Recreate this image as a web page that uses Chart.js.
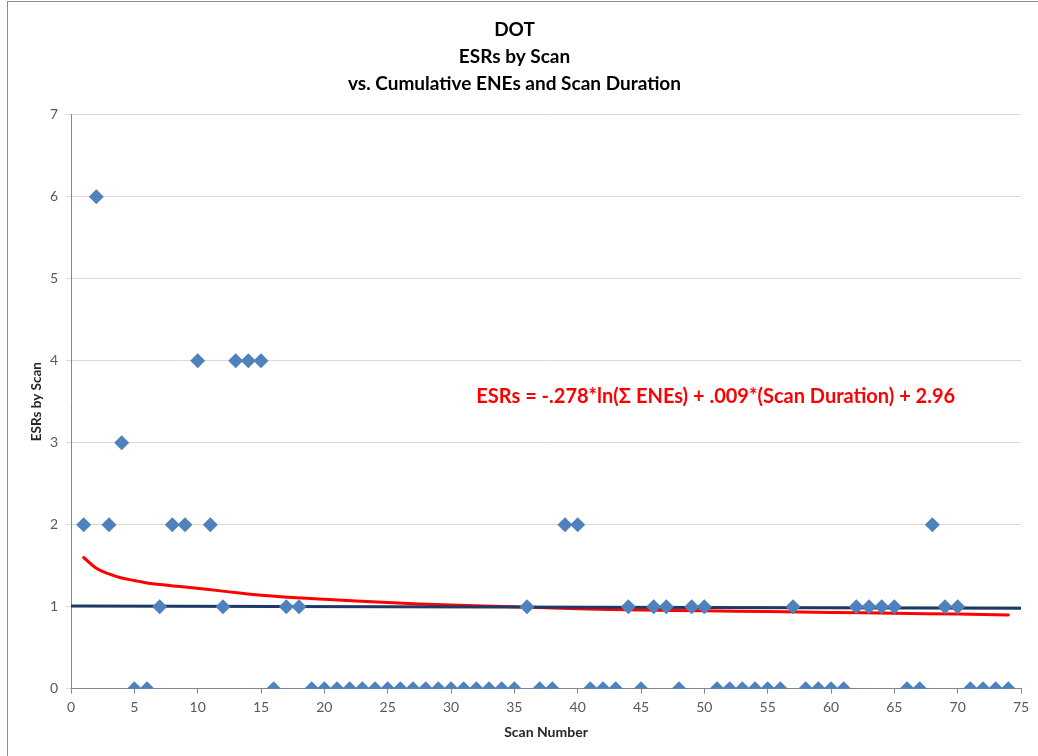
<!DOCTYPE html>
<html>
<head>
<meta charset="utf-8">
<script src="https://cdn.jsdelivr.net/npm/chart.js@4/dist/chart.umd.min.js"></script>
<style>
  html, body { margin: 0; padding: 0; background: #fff; overflow: hidden; width: 1038px; height: 756px; }
  #frame { position: absolute; left: 7px; top: 1px; border: 1px solid #8c8c8c; width: 1042px; height: 754px; }
  canvas { display: block; }
</style>
</head>
<body>
<div id="frame"><canvas id="c" width="1042" height="754"></canvas></div>
<script>
// ---- Data ----
const scanNumbers = [1,2,3,4,5,6,7,8,9,10,11,12,13,14,15,16,17,18,19,20,21,22,23,24,25,26,27,28,29,30,31,32,33,34,35,36,37,38,39,40,41,42,43,44,45,46,47,48,49,50,51,52,53,54,55,56,57,58,59,60,61,62,63,64,65,66,67,68,69,70,71,72,73,74];
const esrs = [2,6,2,3,0,0,1,2,2,4,2,1,4,4,4,0,1,1,0,0,0,0,0,0,0,0,0,0,0,0,0,0,0,0,0,1,0,0,2,2,0,0,0,1,0,1,1,0,1,1,0,0,0,0,0,0,1,0,0,0,0,1,1,1,1,0,0,2,1,1,0,0,0,0];
const fitX = [1,2,3,4,5,6,7,9,12,15,20,25,30,35,40,45,50,55,60,65,70,74];
const fitY = [1.60,1.47,1.40,1.35,1.32,1.29,1.27,1.24,1.19,1.14,1.09,1.05,1.02,1.00,0.975,0.96,0.95,0.94,0.93,0.92,0.91,0.90];
const lineX = [0, 75];
const lineY = [1.01, 0.98];
const titleLines = ['DOT', 'ESRs by Scan', 'vs. Cumulative ENEs and Scan Duration'];
const equationText = 'ESRs = -.278*ln(\u03A3 ENEs) + .009*(Scan Duration) + 2.96';
const equationAt = { x: 32, y: 3.56 };
const xTitle = 'Scan Number';
const yTitle = 'ESRs by Scan';

const toXY = (xs, ys) => xs.map((x, i) => ({ x: x, y: ys[i] }));

const equationPlugin = {
  id: 'equation',
  afterDatasetsDraw(chart) {
    const ctx = chart.ctx;
    const px = chart.scales.x.getPixelForValue(equationAt.x);
    const py = chart.scales.y.getPixelForValue(equationAt.y);
    ctx.save();
    ctx.font = 'bold 20px Lato';
    ctx.fillStyle = '#ff0000';
    ctx.textAlign = 'left';
    ctx.textBaseline = 'middle';
    ctx.fillText(equationText, px, py);
    ctx.restore();
  }
};

new Chart(document.getElementById('c'), {
  type: 'scatter',
  data: {
    datasets: [
      {
        label: 'ESRs',
        data: toXY(scanNumbers, esrs),
        pointStyle: 'rectRot',
        pointRadius: 7.5,
        pointHoverRadius: 7.5,
        backgroundColor: '#4f81bd',
        borderColor: '#4f81bd',
        borderWidth: 0,
        showLine: false
      },
      {
        label: 'Line',
        data: toXY(lineX, lineY),
        showLine: true,
        borderColor: '#1f3864',
        borderWidth: 3,
        pointRadius: 0
      },
      {
        label: 'Fit',
        data: toXY(fitX, fitY),
        showLine: true,
        borderColor: '#ff0000',
        borderWidth: 3,
        pointRadius: 0,
        tension: 0.4,
        borderCapStyle: 'round',
        borderJoinStyle: 'round'
      }
    ]
  },
  options: {
    responsive: false,
    animation: false,
    devicePixelRatio: 1,
    layout: { padding: { left: 0, right: 29, top: 0, bottom: 0 } },
    plugins: {
      legend: { display: false },
      tooltip: { enabled: false },
      title: {
        display: true,
        text: titleLines,
        color: '#000',
        font: { family: 'Lato', size: 19, weight: 'bold', lineHeight: 27/19 },
        padding: { top: 14.5, bottom: 17.2 }
      }
    },
    scales: {
      x: {
        type: 'linear',
        min: 0, max: 75,
        ticks: { stepSize: 5, color: '#595959', font: { family: 'Lato', size: 14 }, padding: 5, maxRotation: 0 },
        grid: { drawOnChartArea: false, drawTicks: true, tickLength: 5, tickColor: '#868686' },
        border: { color: '#868686', width: 1 },
        title: { display: true, text: xTitle, color: '#262626', font: { family: 'Lato', size: 14, weight: 'bold' }, padding: { top: 0, bottom: 15.6 } },
        afterFit(s) { s.height = 67.3; }
      },
      y: {
        type: 'linear',
        min: 0, max: 7,
        ticks: { stepSize: 1, color: '#595959', font: { family: 'Lato', size: 14 }, padding: 8 },
        grid: { color: '#d9d9d9', tickColor: '#d9d9d9', tickLength: 5, lineWidth: 1 },
        border: { color: '#868686', width: 1 },
        title: { display: true, text: yTitle, color: '#262626', font: { family: 'Lato', size: 13.5, weight: 'bold' }, padding: { top: 20.5, bottom: 0 } },
        afterFit(s) { s.width = 63; }
      }
    }
  },
  plugins: [equationPlugin]
});
</script>
</body>
</html>
